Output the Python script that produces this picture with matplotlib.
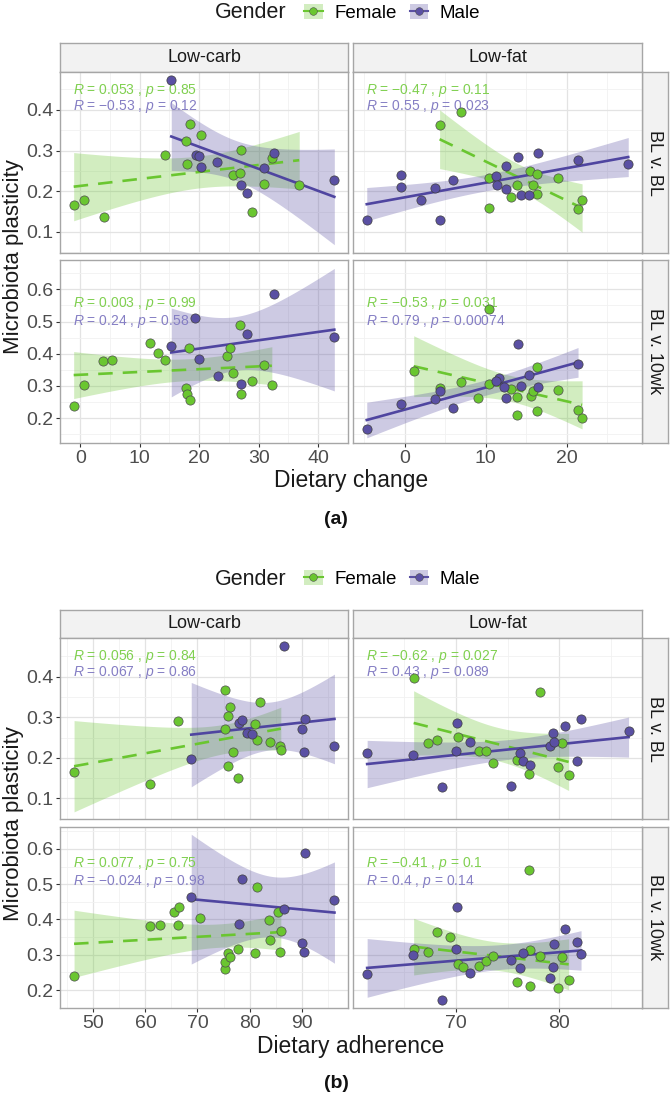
import numpy as np
import matplotlib.pyplot as plt
from matplotlib.patches import Patch
from matplotlib.lines import Line2D
from matplotlib.ticker import MultipleLocator, FormatStrFormatter

plt.rcParams['font.family'] = ['Liberation Sans', 'DejaVu Sans']
plt.rcParams['mathtext.fontset'] = 'custom'
plt.rcParams['mathtext.it'] = 'Liberation Sans:italic'
plt.rcParams['mathtext.rm'] = 'Liberation Sans'

# ---- data ----
# (a) Dietary change
a_lc_bb_fx = [-1.1, 0.6, 4.0, 14.2, 17.7, 18.4, 17.9, 20.3, 25.7, 26.9, 27.0, 28.9, 30.8, 32.2, 36.8]
a_lc_bb_fy = [0.165, 0.178, 0.136, 0.288, 0.324, 0.366, 0.268, 0.337, 0.239, 0.244, 0.302, 0.149, 0.218, 0.282, 0.214]
a_lc_bb_mx = [15.3, 19.4, 20.0, 20.3, 23.0, 27.1, 28.1, 30.8, 32.6, 42.7]
a_lc_bb_my = [0.474, 0.290, 0.286, 0.260, 0.271, 0.214, 0.195, 0.257, 0.294, 0.228]

a_lf_bb_fx = [4.3, 6.9, 10.4, 10.4, 13.1, 13.9, 15.5, 15.8, 16.3, 16.3, 18.9, 21.4, 21.9]
a_lf_bb_fy = [0.362, 0.394, 0.232, 0.159, 0.186, 0.216, 0.250, 0.215, 0.243, 0.194, 0.233, 0.157, 0.178]
a_lf_bb_mx = [-4.7, -0.5, -0.5, 2.0, 3.7, 4.4, 5.9, 11.3, 11.4, 12.5, 12.5, 14.0, 14.4, 15.3, 16.5, 21.4, 27.6]
a_lf_bb_my = [0.128, 0.239, 0.210, 0.179, 0.208, 0.130, 0.228, 0.238, 0.215, 0.261, 0.205, 0.283, 0.191, 0.191, 0.294, 0.277, 0.266]

a_lc_10_fx = [-1.1, 0.6, 3.9, 5.3, 11.8, 13.0, 14.2, 18.2, 17.7, 17.9, 18.4, 24.6, 25.2, 25.7, 26.9, 27.0, 28.9, 30.8, 32.2]
a_lc_10_fy = [0.238, 0.303, 0.379, 0.381, 0.433, 0.402, 0.381, 0.419, 0.293, 0.274, 0.257, 0.394, 0.419, 0.340, 0.489, 0.275, 0.314, 0.364, 0.303]
a_lc_10_mx = [15.3, 19.3, 20.0, 23.1, 27.0, 28.1, 32.6, 42.7]
a_lc_10_my = [0.425, 0.512, 0.384, 0.331, 0.305, 0.461, 0.584, 0.451]

a_lf_10_fx = [1.1, 4.3, 7.0, 9.1, 10.4, 10.4, 13.1, 13.8, 13.9, 15.6, 15.8, 16.3, 16.3, 18.9, 21.4, 21.9]
a_lf_10_fy = [0.348, 0.293, 0.311, 0.263, 0.538, 0.305, 0.291, 0.210, 0.267, 0.270, 0.283, 0.360, 0.221, 0.288, 0.226, 0.202]
a_lf_10_mx = [-4.7, -0.5, 3.7, 4.4, 5.9, 11.6, 11.3, 12.3, 12.5, 14.0, 14.4, 15.3, 16.5, 21.4]
a_lf_10_my = [0.168, 0.244, 0.260, 0.283, 0.233, 0.326, 0.314, 0.298, 0.264, 0.429, 0.300, 0.334, 0.298, 0.368]

# (b) Dietary adherence
b_lc_bb_fx = [46.3, 60.8, 66.3, 75.2, 76.2, 75.8, 75.3, 76.9, 75.9, 77.7, 81.1, 81.5, 82.0, 83.9, 85.8, 86.0]
b_lc_bb_fy = [0.164, 0.135, 0.291, 0.368, 0.326, 0.304, 0.270, 0.215, 0.180, 0.149, 0.284, 0.244, 0.338, 0.238, 0.230, 0.218]
b_lc_bb_mx = [68.8, 77.9, 78.5, 79.6, 80.5, 86.7, 90.0, 90.6, 90.4, 96.3]
b_lc_bb_my = [0.196, 0.287, 0.293, 0.262, 0.259, 0.476, 0.271, 0.296, 0.214, 0.230]

b_lf_bb_fx = [65.9, 67.3, 68.2, 70.2, 72.2, 72.9, 73.6, 75.9, 77.1, 78.1, 79.9, 80.3, 80.9]
b_lf_bb_fy = [0.398, 0.236, 0.244, 0.252, 0.217, 0.217, 0.186, 0.195, 0.159, 0.363, 0.178, 0.236, 0.158]
b_lf_bb_mx = [61.4, 65.8, 68.6, 70.0, 70.1, 71.4, 75.3, 76.2, 76.5, 77.2, 79.1, 79.4, 79.5, 80.5, 81.7, 82.1, 86.7]
b_lf_bb_my = [0.211, 0.206, 0.127, 0.217, 0.285, 0.238, 0.131, 0.211, 0.193, 0.181, 0.229, 0.262, 0.239, 0.278, 0.192, 0.296, 0.267]

b_lc_10_fx = [46.3, 60.8, 62.8, 65.4, 66.5, 66.2, 70.5, 75.2, 75.3, 75.8, 76.2, 77.7, 81.1, 81.5, 83.8, 83.9, 85.5, 86.0, 85.8]
b_lc_10_fy = [0.240, 0.382, 0.384, 0.420, 0.434, 0.383, 0.403, 0.260, 0.278, 0.304, 0.293, 0.315, 0.306, 0.491, 0.397, 0.342, 0.422, 0.367, 0.307]
b_lc_10_mx = [68.8, 78.5, 77.9, 86.7, 90.0, 90.6, 90.4, 96.3]
b_lc_10_my = [0.465, 0.515, 0.388, 0.429, 0.334, 0.588, 0.308, 0.455]

b_lf_10_fx = [65.9, 67.3, 68.2, 69.4, 70.2, 70.7, 72.2, 72.9, 73.6, 75.9, 77.1, 77.2, 77.2, 78.1, 79.9, 80.3, 80.9]
b_lf_10_fy = [0.315, 0.307, 0.364, 0.349, 0.273, 0.266, 0.269, 0.282, 0.295, 0.224, 0.540, 0.212, 0.313, 0.295, 0.207, 0.293, 0.228]
b_lf_10_mx = [61.4, 65.8, 68.6, 70.0, 70.1, 71.4, 75.3, 76.2, 76.5, 79.1, 79.4, 79.5, 80.5, 81.7, 82.1]
b_lf_10_my = [0.244, 0.299, 0.172, 0.317, 0.434, 0.249, 0.285, 0.263, 0.304, 0.235, 0.266, 0.330, 0.373, 0.337, 0.302]

# correlation labels as printed (R female, p female, R male, p male, neg female, neg male)
a_notes = [("0.053", "0.85", "0.53", "0.12", False, True),
           ("0.47", "0.11", "0.55", "0.023", True, False),
           ("0.003", "0.99", "0.24", "0.58", False, False),
           ("0.53", "0.031", "0.79", "0.00074", True, False)]
b_notes = [("0.056", "0.84", "0.067", "0.86", False, False),
           ("0.62", "0.027", "0.43", "0.089", True, False),
           ("0.077", "0.75", "0.024", "0.98", False, True),
           ("0.41", "0.1", "0.4", "0.14", True, False)]

diets = ["Low-carb", "Low-fat"]
comparisons = ["BL v. BL", "BL v. 10wk"]
genders = ["Female", "Male"]

GREEN = '#6ac630'
BLUE = '#5a50a3'
GREEN_TXT = '#80d050'
BLUE_TXT = '#857ec4'

# t(0.975, df) for the lm confidence band
T975 = {5: 2.571, 6: 2.447, 7: 2.365, 8: 2.306, 9: 2.262, 10: 2.228, 11: 2.201,
        12: 2.179, 13: 2.160, 14: 2.145, 15: 2.131, 16: 2.120, 17: 2.110,
        18: 2.101, 19: 2.093, 20: 2.086}


def lm_band(x, y):
    x = np.asarray(x)
    y = np.asarray(y)
    n = len(x)
    b, a = np.polyfit(x, y, 1)
    xs = np.linspace(x.min(), x.max(), 80)
    yh = a + b * xs
    s = np.sqrt(np.sum((y - (a + b * x)) ** 2) / (n - 2))
    sxx = np.sum((x - x.mean()) ** 2)
    se = s * np.sqrt(1.0 / n + (xs - x.mean()) ** 2 / sxx)
    t = T975[n - 2]
    return xs, yh, yh - t * se, yh + t * se


def note(r1, p1, r2, p2, neg1, neg2):
    s1 = ("\u2212" if neg1 else "") + r1
    s2 = ("\u2212" if neg2 else "") + r2
    return (r"$\mathit{R}$ = " + s1 + r" , $\mathit{p}$ = " + p1,
            r"$\mathit{R}$ = " + s2 + r" , $\mathit{p}$ = " + p2)


W, H = 672, 1104
fig = plt.figure(figsize=(W / 100, H / 100), dpi=100)


def rect(x0, y0, x1, y1):
    return [x0 / W, 1 - y1 / H, (x1 - x0) / W, (y1 - y0) / H]


COLS = [(60, 348), (353, 642)]
BORDER = '#a6a6a6'


def strip(x0, y0, x1, y1, label, rot=0):
    sa = fig.add_axes(rect(x0, y0, x1, y1))
    sa.set_facecolor('#f2f2f2')
    sa.set_xticks([])
    sa.set_yticks([])
    for sp in sa.spines.values():
        sp.set_color(BORDER)
        sp.set_linewidth(1.0)
    sa.text(0.5, 0.5, label, transform=sa.transAxes, ha='center', va='center',
            fontsize=13, color='#1a1a1a', rotation=rot)


def panel(box, fx, fy, mx, my, xlim, ylim, notes, note_y, show_x, show_y):
    ax = fig.add_axes(rect(*box))
    ax.set_xlim(xlim)
    ax.set_ylim(ylim)
    ax.xaxis.set_major_locator(MultipleLocator(10))
    ax.xaxis.set_minor_locator(MultipleLocator(5))
    ax.yaxis.set_major_locator(MultipleLocator(0.1))
    ax.yaxis.set_minor_locator(MultipleLocator(0.05))
    ax.yaxis.set_major_formatter(FormatStrFormatter('%.1f'))
    ax.xaxis.set_major_formatter(FormatStrFormatter('%d'))
    ax.grid(which='major', color='#e3e3e3', lw=0.9)
    ax.grid(which='minor', color='#f1f1f1', lw=0.6)
    ax.set_axisbelow(True)
    for sp in ax.spines.values():
        sp.set_color(BORDER)
        sp.set_linewidth(1.0)
    ax.tick_params(which='minor', length=0)
    ax.tick_params(axis='x', which='major', length=3 if show_x else 0,
                   labelbottom=show_x, labelsize=14, labelcolor='#4d4d4d',
                   color='#333333', pad=2)
    ax.tick_params(axis='y', which='major', length=3 if show_y else 0,
                   labelleft=show_y, labelsize=14, labelcolor='#4d4d4d',
                   color='#333333', pad=2)

    for gx, gy, col, dash in [(fx, fy, GREEN, (5.5, 3.8)), (mx, my, BLUE, None)]:
        xs, yh, lo, hi = lm_band(gx, gy)
        ax.fill_between(xs, lo, hi, color=col, alpha=0.3, lw=0, zorder=1)
        ln, = ax.plot(xs, yh, color=col if dash else '#4f45a0', lw=1.9, zorder=2)
        if dash:
            ln.set_dashes(dash)

    t1, t2 = note(*notes)
    ax.text(0.045, note_y[0], t1, transform=ax.transAxes, fontsize=10,
            color=GREEN_TXT, va='center', ha='left', zorder=2.5)
    ax.text(0.045, note_y[1], t2, transform=ax.transAxes, fontsize=10,
            color=BLUE_TXT, va='center', ha='left', zorder=2.5)

    ax.scatter(fx, fy, s=44, c=GREEN, edgecolors='#4d4d4d', linewidths=0.5, zorder=3)
    ax.scatter(mx, my, s=44, c=BLUE, edgecolors='#3d3d3d', linewidths=0.5, zorder=3)
    return ax


def legend(ycen):
    fig.text(215 / W, 1 - ycen / H, "Gender", fontsize=15.5, color='#1a1a1a',
             ha='left', va='center')
    handles = []
    for col in [GREEN, BLUE]:
        handles.append((Patch(facecolor=col, alpha=0.3, edgecolor='none'),
                        Line2D([], [], color=col, lw=1.5, marker='o', markersize=5.5,
                               markeredgecolor='#4d4d4d', markeredgewidth=0.4)))
    fig.legend(handles, genders, loc='center left', bbox_to_anchor=(304 / W, 1 - ycen / H),
               ncol=2, frameon=False, fontsize=13.5, handlelength=1.0, handleheight=0.8,
               handletextpad=0.6, columnspacing=0.7, borderpad=0, borderaxespad=0)


def block(top, bot, strip_y, leg_y, xlab, xlab_y, tag, tag_y, ylab_y,
          data, notes, xlims, ylims, note_ys):
    legend(leg_y)
    for j, (x0, x1) in enumerate(COLS):
        strip(x0, strip_y, x1, top[0], diets[j])
    for i, (y0, y1) in enumerate([top, bot]):
        strip(642, y0, 668, y1, comparisons[i], rot=270)
        for j, (x0, x1) in enumerate(COLS):
            fx, fy, mx, my = data[i][j]
            panel((x0, y0, x1, y1), fx, fy, mx, my, xlims[j], ylims[i],
                  notes[2 * i + j], note_ys[i], show_x=(i == 1), show_y=(j == 0))
    fig.text(14 / W, 1 - ylab_y / H, "Microbiota plasticity", rotation=90, fontsize=16,
             ha='center', va='center', color='#1a1a1a')
    fig.text(351 / W, 1 - xlab_y / H, xlab, fontsize=16.5, ha='center', va='center',
             color='#1a1a1a')
    fig.text(336 / W, 1 - tag_y / H, tag, fontsize=14, fontweight='bold', ha='center',
             va='center', color='#111111')


block(top=(72, 253), bot=(260, 443), strip_y=43, leg_y=13,
      xlab="Dietary change", xlab_y=481, tag="(a)", tag_y=520, ylab_y=257,
      data=[[(a_lc_bb_fx, a_lc_bb_fy, a_lc_bb_mx, a_lc_bb_my),
             (a_lf_bb_fx, a_lf_bb_fy, a_lf_bb_mx, a_lf_bb_my)],
            [(a_lc_10_fx, a_lc_10_fy, a_lc_10_mx, a_lc_10_my),
             (a_lf_10_fx, a_lf_10_fy, a_lf_10_mx, a_lf_10_my)]],
      notes=a_notes, xlims=[(-3.4, 45.0), (-6.4, 29.3)],
      ylims=[(0.048, 0.493), (0.123, 0.691)],
      note_ys=[(0.90, 0.81), (0.76, 0.665)])

block(top=(638, 819), bot=(827, 1008), strip_y=610, leg_y=579,
      xlab="Dietary adherence", xlab_y=1046, tag="(b)", tag_y=1083, ylab_y=824,
      data=[[(b_lc_bb_fx, b_lc_bb_fy, b_lc_bb_mx, b_lc_bb_my),
             (b_lf_bb_fx, b_lf_bb_fy, b_lf_bb_mx, b_lf_bb_my)],
            [(b_lc_10_fx, b_lc_10_fy, b_lc_10_mx, b_lc_10_my),
             (b_lf_10_fx, b_lf_10_fy, b_lf_10_mx, b_lf_10_my)]],
      notes=b_notes, xlims=[(43.6, 98.9), (60.03, 88.0)],
      ylims=[(0.049, 0.4955), (0.149, 0.662)],
      note_ys=[(0.90, 0.81), (0.80, 0.70)])

fig.savefig("out.png", dpi=100)
